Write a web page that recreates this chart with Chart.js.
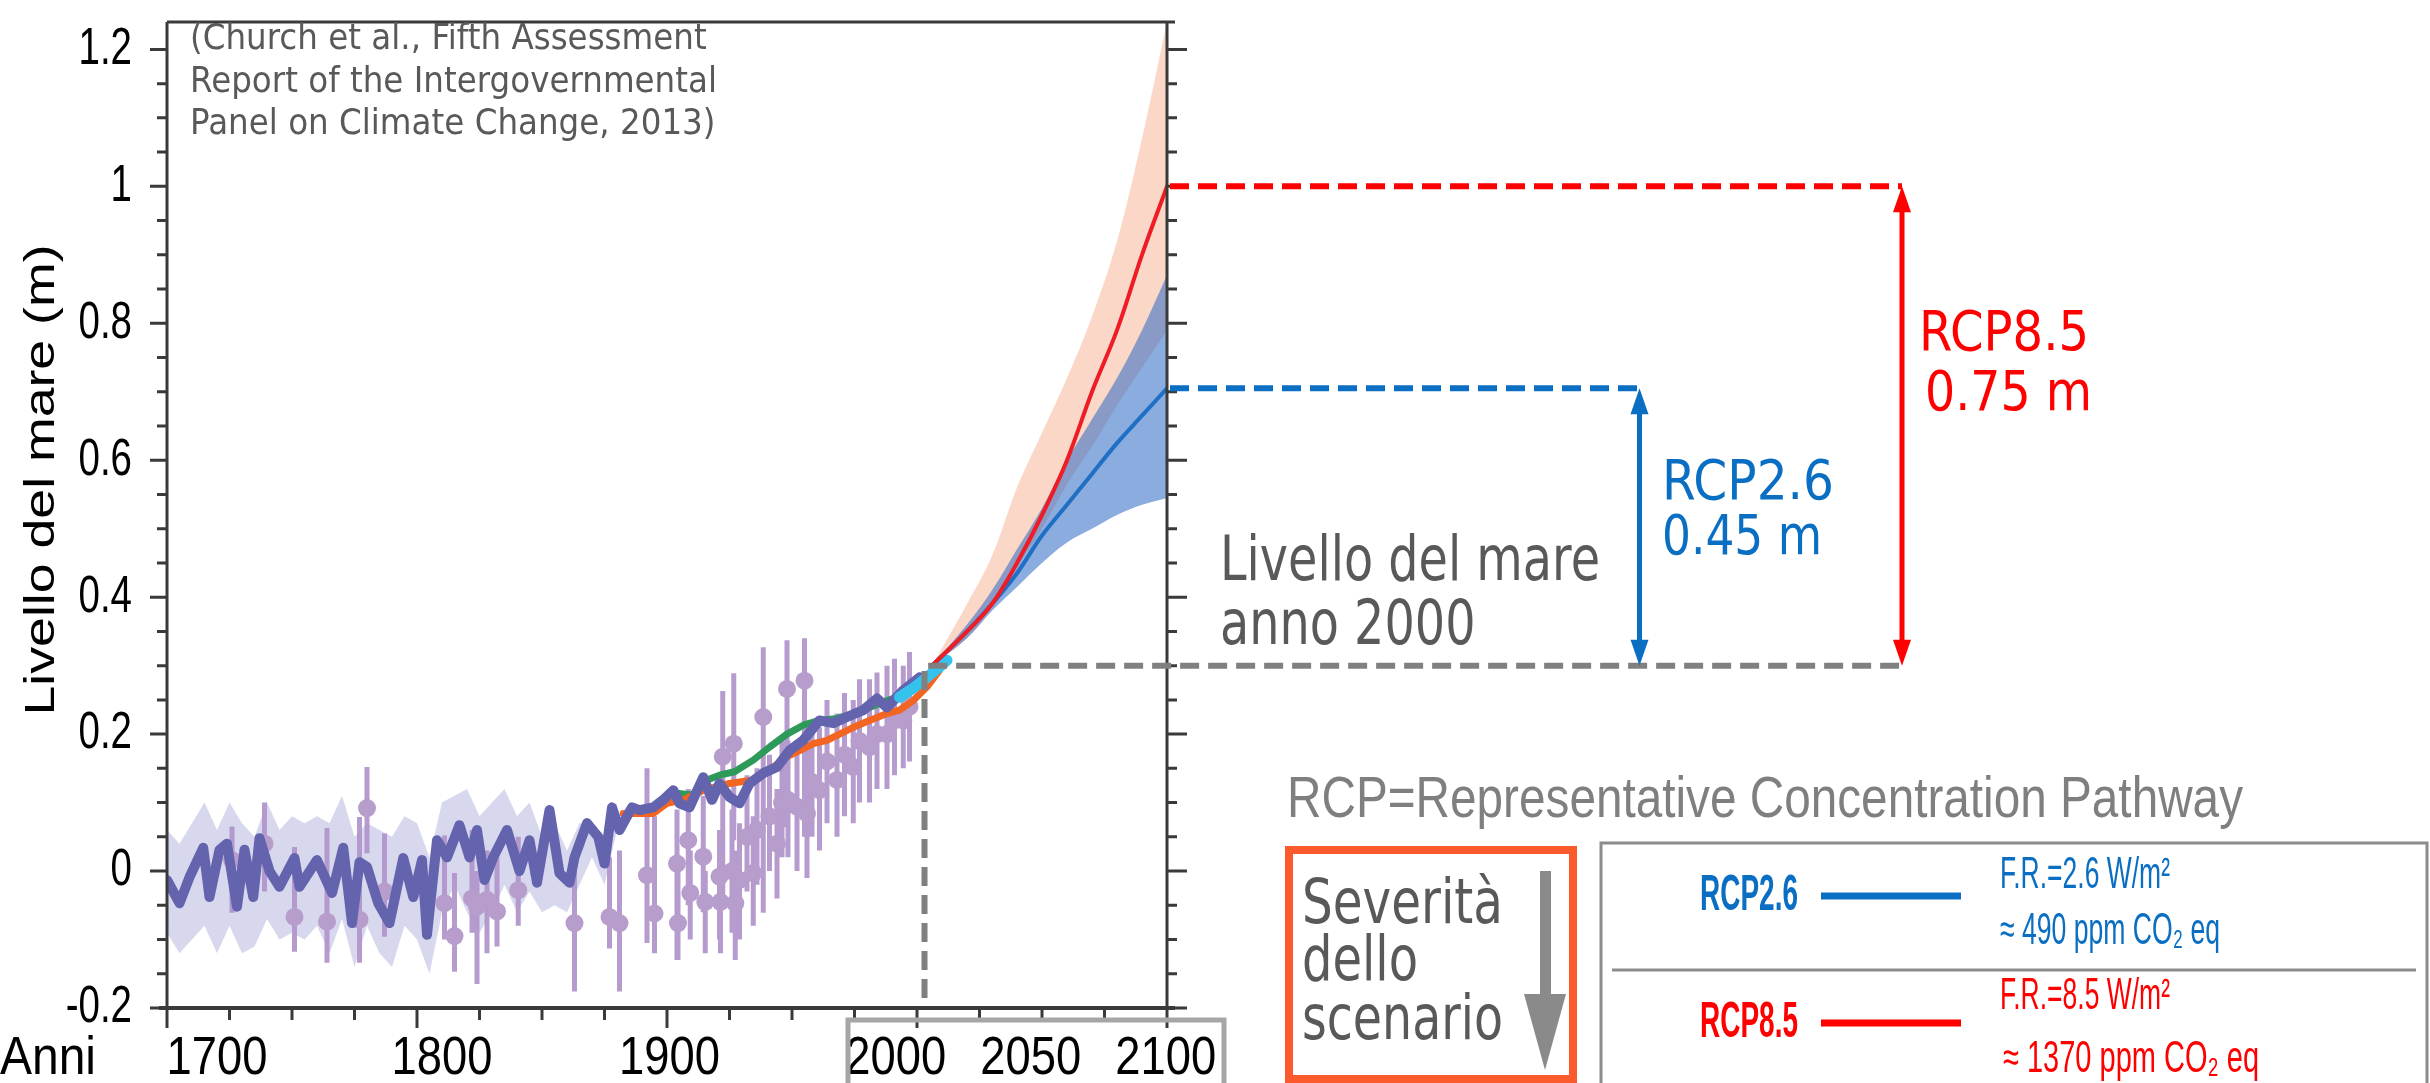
<!DOCTYPE html>
<html>
<head>
<meta charset="utf-8">
<script src="https://cdn.jsdelivr.net/npm/chart.js@4.4.1/dist/chart.umd.min.js"></script>
<style>
  html, body { margin: 0; padding: 0; background: #fff; overflow: hidden; }
  canvas { display: block; }
</style>
</head>
<body>
<canvas id="grafico" width="2430" height="1083"></canvas>
<script>
// Ricostruzione storica (linea viola scura)
const anniStorici = [1700,1705,1709,1714.5,1717,1721,1724,1728,1731,1734.5,1737,1741,1745,1751,1753,1760,1766,1770.5,1774,1777,1780,1784.5,1789,1794.5,1798.5,1802,1804,1808,1812,1817,1821,1824,1827,1830.5,1836,1841,1845,1848,1853,1857,1861,1863,1868,1872.5,1875,1878,1881,1886,1889,1894.5,1898.5,1902.5,1905,1909,1914.5,1918,1921,1925,1929,1933,1938.5,1944,1949,1954.5,1961,1966.5,1972,1978.5,1984,1988,1994.5,2001];
const livelloStorico = [-0.013,-0.047,-0.009,0.034,-0.038,0.031,0.04,-0.052,0.031,-0.038,0.048,0.0,-0.023,0.019,-0.023,0.016,-0.032,0.034,-0.076,0.013,0.006,-0.047,-0.076,0.019,-0.038,0.016,-0.093,0.045,0.02,0.067,0.02,0.06,-0.013,0.02,0.06,0.0,0.045,-0.017,0.089,-0.003,-0.017,0.02,0.07,0.05,0.011,0.093,0.06,0.093,0.089,0.093,0.104,0.118,0.099,0.093,0.137,0.104,0.128,0.108,0.099,0.128,0.143,0.152,0.176,0.191,0.22,0.216,0.225,0.235,0.252,0.239,0.264,0.283];

// Incertezza della ricostruzione (banda lilla)
const anniBanda = [1700,1705,1710,1715,1720,1725,1730,1735,1740,1745,1750,1755,1760,1765,1770,1775,1780,1785,1790,1795,1800,1805,1810,1815,1820,1825,1830,1835,1840,1845,1850,1855,1860,1865,1870,1875,1880];
const bandaSup = [0.06,0.04,0.07,0.1,0.06,0.1,0.07,0.05,0.1,0.06,0.08,0.07,0.08,0.07,0.11,0.05,0.07,0.06,0.05,0.08,0.07,0.02,0.1,0.11,0.12,0.08,0.1,0.12,0.08,0.1,0.05,0.07,0.03,0.07,0.07,0.05,0.1];
const bandaInf = [-0.09,-0.12,-0.1,-0.08,-0.12,-0.08,-0.12,-0.11,-0.07,-0.1,-0.09,-0.1,-0.08,-0.12,-0.07,-0.14,-0.08,-0.12,-0.14,-0.08,-0.1,-0.15,-0.06,-0.02,-0.06,-0.09,-0.06,-0.02,-0.06,-0.03,-0.06,-0.05,-0.06,-0.02,0.02,-0.02,0.06];

// Dati puntuali con barre d'errore (lilla chiaro)
const anniPunti = [1726,1739,1751,1764,1777,1780,1787,1811,1815,1822,1824,1828,1832,1840.5,1863,1877,1881,1892,1895,1904,1904.4,1908.5,1909.3,1914.5,1915.3,1921,1921.4,1922.3,1926,1926.7,1927.3,1929,1932,1934.5,1936,1938.5,1941,1944,1946,1948,1948.4,1952,1955,1956,1958,1961,1964,1968,1971,1974.5,1977,1981,1984,1988,1991,1994.5,1997];
const livelloPunti = [0.016,0.04,-0.067,-0.074,-0.071,0.092,-0.03,-0.047,-0.095,-0.04,-0.052,-0.042,-0.059,-0.028,-0.076,-0.067,-0.076,-0.006,-0.062,0.011,-0.076,0.045,-0.032,0.021,-0.045,-0.008,-0.045,0.167,0.0,0.186,-0.047,-0.013,0.05,-0.003,0.06,0.225,0.08,0.04,0.10,0.266,0.104,0.094,0.278,0.084,0.13,0.118,0.16,0.133,0.17,0.152,0.19,0.181,0.20,0.2,0.22,0.22,0.24];
const erroreMin = [-0.061,-0.03,-0.118,-0.134,-0.134,0.026,-0.096,-0.1,-0.147,-0.09,-0.165,-0.12,-0.11,-0.08,-0.176,-0.113,-0.176,-0.105,-0.12,-0.13,-0.13,-0.05,-0.1,-0.06,-0.12,-0.1,-0.12,-0.034,-0.09,0.045,-0.13,-0.1,-0.03,-0.08,-0.02,-0.061,0.0,-0.04,0.02,0.064,0.02,0.0,0.05,-0.01,0.05,0.03,0.07,0.05,0.08,0.07,0.1,0.1,0.12,0.12,0.14,0.15,0.16];
const erroreMax = [0.065,0.10,0.035,0.063,0.079,0.152,0.055,0.052,-0.003,0.06,0.0,0.03,0.02,0.05,0.001,0.02,0.03,0.15,0.08,0.09,0.0,0.12,0.03,0.11,0.0,0.06,0.02,0.263,0.09,0.289,0.03,0.07,0.14,0.08,0.15,0.327,0.17,0.12,0.19,0.337,0.19,0.18,0.34,0.18,0.22,0.21,0.25,0.23,0.26,0.25,0.28,0.28,0.29,0.3,0.31,0.3,0.32];

// Mareografi (arancio, verde) e altimetria satellitare (azzurro)
const anniArancio = [1882.5,1894.5,1900,1906.5,1914.5,1925,1934.5,1942.5,1948,1953,1958.5,1964,1969,1974.5,1981,1988,1993,1998.5,2004,2009];
const livelloArancio = [0.084,0.084,0.099,0.104,0.118,0.128,0.133,0.152,0.167,0.176,0.186,0.191,0.2,0.21,0.22,0.23,0.235,0.249,0.269,0.293];
const anniVerde = [1903,1910,1916,1921,1927,1934.5,1941,1948,1954.5,1961,1968,1974.5,1981,1988,1993];
const livelloVerde = [0.114,0.111,0.133,0.14,0.145,0.162,0.181,0.2,0.213,0.22,0.223,0.23,0.239,0.249,0.255];
const anniSatellite = [1993,1998.5,2004,2009,2012];
const livelloSatellite = [0.254,0.267,0.283,0.298,0.308];

// Proiezioni
const anniProiezione = [2006,2020,2030,2040,2050,2060,2070,2080,2090,2100];
const rcp85Medio = [0.30,0.35,0.39,0.45,0.52,0.60,0.70,0.79,0.90,1.00];
const rcp85Sup = [0.30,0.39,0.46,0.56,0.64,0.72,0.81,0.92,1.07,1.24];
const rcp85Inf = [0.30,0.34,0.385,0.445,0.50,0.565,0.62,0.68,0.735,0.79];
const rcp26Medio = [0.30,0.35,0.39,0.435,0.49,0.535,0.58,0.625,0.665,0.705];
const rcp26Sup = [0.30,0.36,0.41,0.47,0.53,0.60,0.66,0.72,0.79,0.87];
const rcp26Inf = [0.30,0.34,0.38,0.415,0.45,0.48,0.50,0.52,0.535,0.545];

// Assi ed etichette
const yTickValori = [-0.2, 0, 0.2, 0.4, 0.6, 0.8, 1, 1.2];
const yTickEtichette = ['-0.2', '0', '0.2', '0.4', '0.6', '0.8', '1', '1.2'];
const xEtichette = ['1700', '1800', '1900', '2000', '2050', '2100'];
const xEtichetteAnni = [1720, 1810, 1901, 1991.5, 2045.5, 2099.5];
const livello2000 = 0.3;
const anniFrecce = { rcp26: 2289, rcp85: 2394 };

const punti = (xs, ys) => xs.map((x, i) => ({ x: x, y: ys[i] }));

// barre d'errore come segmenti verticali separati da null
const barreErrore = anniPunti.flatMap((x, i) => [
  { x: x, y: erroreMin[i] }, { x: x, y: erroreMax[i] }, { x: x, y: null }
]);

function testo(ctx, str, x, y, o) {
  ctx.save();
  ctx.font = o.font;
  ctx.fillStyle = o.color || '#000';
  ctx.textBaseline = 'middle';
  ctx.textAlign = o.align || 'left';
  const w = ctx.measureText(str).width;
  const sx = o.width ? o.width / w : (o.sx || 1);
  ctx.translate(x, y);
  if (o.rot) ctx.rotate(o.rot);
  ctx.scale(sx, 1);
  ctx.fillText(str, 0, 0);
  ctx.restore();
  return sx;
}

function freccia(ctx, x, yTop, yBot, color) {
  ctx.save();
  ctx.strokeStyle = color;
  ctx.fillStyle = color;
  ctx.lineWidth = 5;
  ctx.setLineDash([]);
  ctx.beginPath();
  ctx.moveTo(x, yTop + 20);
  ctx.lineTo(x, yBot - 20);
  ctx.stroke();
  [[yTop, 1], [yBot, -1]].forEach(([yy, d]) => {
    ctx.beginPath();
    ctx.moveTo(x, yy);
    ctx.lineTo(x - 9, yy + d * 26);
    ctx.lineTo(x + 9, yy + d * 26);
    ctx.closePath();
    ctx.fill();
  });
  ctx.restore();
}

const extra = {
  id: 'extra',
  beforeDraw(chart) {
    const ctx = chart.ctx;
    ctx.save();
    ctx.fillStyle = '#fff';
    ctx.fillRect(0, 0, chart.width, chart.height);
    ctx.restore();
  },
  afterDraw(chart) {
    const ctx = chart.ctx;
    const xs = chart.scales.x, ys = chart.scales.y;
    const a = chart.chartArea;
    const L = a.left, R = a.right, T = a.top, B = a.bottom;

    // cornice e assi
    ctx.save();
    ctx.strokeStyle = '#3a3a3a';
    ctx.lineCap = 'butt';
    ctx.lineWidth = 3;
    ctx.beginPath();
    ctx.moveTo(L, T); ctx.lineTo(R + 8, T);
    ctx.moveTo(L, T); ctx.lineTo(L, B);
    ctx.moveTo(R, T); ctx.lineTo(R, B);
    ctx.stroke();
    ctx.lineWidth = 4;
    ctx.beginPath();
    ctx.moveTo(L - 8, B); ctx.lineTo(R + 8, B);
    ctx.stroke();
    ctx.lineWidth = 3;
    for (let k = -4; k <= 24; k++) {
      const yy = ys.getPixelForValue(k * 0.05);
      const major = k % 4 === 0;
      ctx.beginPath();
      ctx.moveTo(L - (major ? 17 : 10), yy); ctx.lineTo(L, yy);
      ctx.moveTo(R, yy); ctx.lineTo(R + (major ? 20 : 10), yy);
      ctx.stroke();
    }
    for (let anno = 1700; anno <= 2100; anno += 25) {
      const xx = xs.getPixelForValue(anno);
      ctx.beginPath();
      ctx.moveTo(xx, B); ctx.lineTo(xx, B + (anno % 100 === 0 ? 20 : 12));
      ctx.stroke();
    }
    ctx.restore();

    // etichette asse y
    yTickValori.forEach((v, i) => {
      testo(ctx, yTickEtichette[i], 132, ys.getPixelForValue(v),
        { font: '52px "Liberation Sans", Arial', sx: 0.74, align: 'right' });
    });
    testo(ctx, 'Livello del mare (m)', 42, 480,
      { font: '42px "Liberation Sans", Arial', width: 471, align: 'center', rot: -Math.PI / 2 });

    // etichette asse x
    const fX = '54px "Liberation Sans", Arial';
    testo(ctx, 'Anni', 0, 1059, { font: fX, width: 96 });
    xEtichette.forEach((t, i) => {
      testo(ctx, t, xs.getPixelForValue(xEtichetteAnni[i]), 1059,
        { font: fX, sx: 0.84, align: 'center' });
    });
    ctx.save();
    ctx.strokeStyle = '#a6a6a6';
    ctx.lineWidth = 5;
    ctx.strokeRect(848, 1020, 376, 80);
    ctx.restore();

    // citazione
    const fCit = '35px "DejaVu Sans", Verdana';
    const sCit = testo(ctx, 'Report of the Intergovernmental', 190, 83, { font: fCit, color: '#595959', width: 527 });
    testo(ctx, '(Church et al., Fifth Assessment', 190, 40, { font: fCit, color: '#595959', sx: sCit });
    testo(ctx, 'Panel on Climate Change, 2013)', 190, 125, { font: fCit, color: '#595959', sx: sCit });

    // linee tratteggiate
    const x2000 = xs.getPixelForValue(2003);
    const y03 = ys.getPixelForValue(livello2000);
    const y85 = ys.getPixelForValue(rcp85Medio[rcp85Medio.length - 1]);
    const y26 = ys.getPixelForValue(rcp26Medio[rcp26Medio.length - 1]);
    const xF26 = xs.getPixelForValue(anniFrecce.rcp26);
    const xF85 = xs.getPixelForValue(anniFrecce.rcp85);
    ctx.save();
    ctx.lineWidth = 6;
    ctx.setLineDash([19, 9]);
    ctx.strokeStyle = '#808080';
    ctx.beginPath();
    ctx.moveTo(x2000, B - 10); ctx.lineTo(x2000, y03);
    ctx.lineTo(xF85, y03);
    ctx.stroke();
    ctx.strokeStyle = '#ff0000';
    ctx.beginPath();
    ctx.moveTo(R + 3, y85); ctx.lineTo(xF85, y85);
    ctx.stroke();
    ctx.strokeStyle = '#0a6fc2';
    ctx.beginPath();
    ctx.moveTo(R + 3, y26); ctx.lineTo(xF26, y26);
    ctx.stroke();
    ctx.restore();
    freccia(ctx, xF26, y26, y03, '#0a6fc2');
    freccia(ctx, xF85, y85, y03, '#ff0000');

    // testi annotazioni
    const fAnn = '62px "DejaVu Sans", Verdana';
    const sLiv = testo(ctx, 'Livello del mare', 1220, 564, { font: fAnn, color: '#595959', width: 380 });
    testo(ctx, 'anno 2000', 1220, 628, { font: fAnn, color: '#595959', sx: sLiv });
    const fRcp = '56px "DejaVu Sans", Verdana';
    testo(ctx, 'RCP2.6', 1662, 484, { font: fRcp, color: '#0a6fc2', width: 172 });
    testo(ctx, '0.45 m', 1662, 539, { font: fRcp, color: '#0a6fc2', width: 160 });
    testo(ctx, 'RCP8.5', 1919, 335, { font: fRcp, color: '#ff0000', width: 170 });
    testo(ctx, '0.75 m', 1925, 395, { font: fRcp, color: '#ff0000', width: 167 });

    // legenda scenari
    testo(ctx, 'RCP=Representative Concentration Pathway', 1287, 801,
      { font: '58px "Liberation Sans", Arial', color: '#7f7f7f', width: 956 });
    ctx.save();
    ctx.strokeStyle = '#fb5a2c';
    ctx.lineWidth = 8;
    ctx.strokeRect(1289, 850, 284, 229);
    ctx.restore();
    const fSev = '62px "DejaVu Sans", Verdana';
    testo(ctx, 'Severità', 1302, 907, { font: fSev, color: '#595959', width: 201 });
    testo(ctx, 'dello', 1302, 964, { font: fSev, color: '#595959', width: 116 });
    testo(ctx, 'scenario', 1302, 1023, { font: fSev, color: '#595959', width: 201 });
    ctx.save();
    ctx.fillStyle = '#8a8a8a';
    ctx.fillRect(1540, 871, 11, 125);
    ctx.beginPath();
    ctx.moveTo(1524, 994); ctx.lineTo(1566, 994); ctx.lineTo(1545, 1070);
    ctx.closePath();
    ctx.fill();
    ctx.strokeStyle = '#8c8c8c';
    ctx.lineWidth = 3;
    ctx.strokeRect(1601, 843, 826, 260);
    ctx.beginPath();
    ctx.moveTo(1612, 970); ctx.lineTo(2416, 970);
    ctx.stroke();
    ctx.lineWidth = 7;
    ctx.strokeStyle = '#0a6fc2';
    ctx.beginPath(); ctx.moveTo(1821, 896); ctx.lineTo(1961, 896); ctx.stroke();
    ctx.strokeStyle = '#ff0000';
    ctx.beginPath(); ctx.moveTo(1821, 1023); ctx.lineTo(1961, 1023); ctx.stroke();
    ctx.restore();
    testo(ctx, 'RCP2.6', 1700, 896, { font: 'bold 50px "Liberation Sans", Arial', color: '#0a6fc2', width: 98 });
    testo(ctx, 'RCP8.5', 1700, 1023, { font: 'bold 50px "Liberation Sans", Arial', color: '#ff0000', width: 98 });
    const fLeg = '44px "Liberation Sans", Arial';
    testo(ctx, 'F.R.=2.6 W/m²', 2000, 876, { font: fLeg, color: '#0a6fc2', width: 170 });
    testo(ctx, '≈ 490 ppm CO₂ eq', 2000, 932, { font: fLeg, color: '#0a6fc2', width: 220 });
    testo(ctx, 'F.R.=8.5 W/m²', 2000, 997, { font: fLeg, color: '#ff0000', width: 170 });
    testo(ctx, '≈ 1370 ppm CO₂ eq', 2003, 1060, { font: fLeg, color: '#ff0000', width: 256 });
  }
};

const lineaBase = { pointRadius: 0, fill: false, tension: 0, borderCapStyle: 'round', borderJoinStyle: 'round' };

new Chart(document.getElementById('grafico'), {
  type: 'line',
  data: {
    datasets: [
      { ...lineaBase, label: 'RCP8.5', data: punti(anniProiezione, rcp85Medio), borderColor: '#ee1c25', borderWidth: 4, tension: 0.35, order: 0 },
      { ...lineaBase, label: 'RCP2.6', data: punti(anniProiezione, rcp26Medio), borderColor: '#1f6fc5', borderWidth: 4, tension: 0.35, order: 1 },
      { ...lineaBase, label: 'RCP2.6 sup', data: punti(anniProiezione, rcp26Sup), borderWidth: 0, tension: 0.35, fill: '+1', backgroundColor: 'rgba(42,104,195,0.55)', order: 2 },
      { ...lineaBase, label: 'RCP2.6 inf', data: punti(anniProiezione, rcp26Inf), borderWidth: 0, tension: 0.35, order: 3 },
      { ...lineaBase, label: 'RCP8.5 sup', data: punti(anniProiezione, rcp85Sup), borderWidth: 0, tension: 0.35, fill: '+1', backgroundColor: 'rgba(246,160,125,0.42)', order: 4 },
      { ...lineaBase, label: 'RCP8.5 inf', data: punti(anniProiezione, rcp85Inf), borderWidth: 0, tension: 0.35, order: 5 },
      { ...lineaBase, label: 'Satellite', data: punti(anniSatellite, livelloSatellite), borderColor: '#35c3ee', borderWidth: 11, order: 6 },
      { ...lineaBase, label: 'Ricostruzione', data: punti(anniStorici, livelloStorico), borderColor: '#6363ae', borderWidth: 10, order: 7 },
      { ...lineaBase, label: 'Arancio', data: punti(anniArancio, livelloArancio), borderColor: '#f26522', borderWidth: 7, order: 8 },
      { ...lineaBase, label: 'Verde', data: punti(anniVerde, livelloVerde), borderColor: '#2e9a5a', borderWidth: 7, order: 9 },
      { label: 'Punti', data: punti(anniPunti, livelloPunti), showLine: false, pointRadius: 9, pointBackgroundColor: '#b79dcc', pointBorderWidth: 0, order: 10 },
      { ...lineaBase, label: 'Errori', data: barreErrore, spanGaps: false, borderColor: 'rgba(178,150,204,0.95)', borderWidth: 5, borderCapStyle: 'butt', order: 11 },
      { ...lineaBase, label: 'Banda sup', data: punti(anniBanda, bandaSup), borderWidth: 0, fill: '+1', backgroundColor: 'rgba(175,175,220,0.5)', order: 12 },
      { ...lineaBase, label: 'Banda inf', data: punti(anniBanda, bandaInf), borderWidth: 0, order: 13 }
    ]
  },
  options: {
    responsive: false,
    devicePixelRatio: 1,
    animation: false,
    layout: { padding: { left: 167, top: 22, right: 1263, bottom: 75 } },
    plugins: { legend: { display: false }, tooltip: { enabled: false } },
    scales: {
      x: { type: 'linear', min: 1700, max: 2100, offset: false, display: false },
      y: { type: 'linear', min: -0.2, max: 1.24, display: false }
    }
  },
  plugins: [extra]
});
</script>
</body>
</html>
